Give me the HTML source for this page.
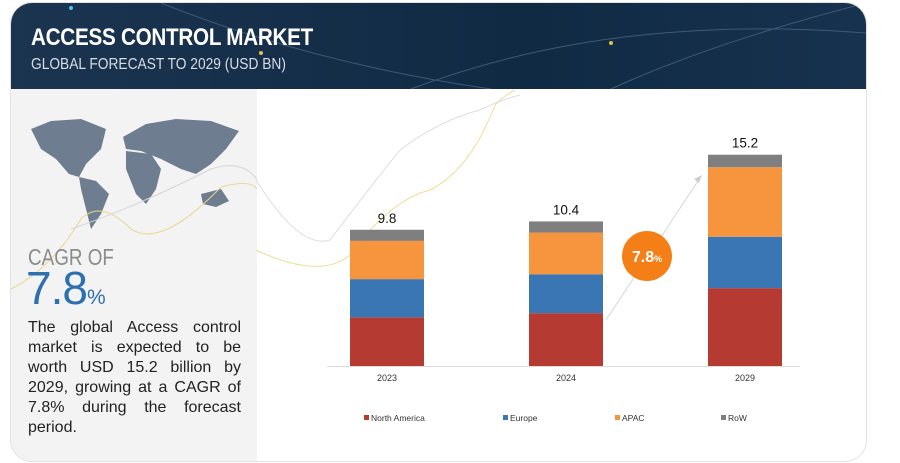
<!DOCTYPE html>
<html><head><meta charset="utf-8"><style>
body{margin:0;width:900px;height:463px;background:#fff;font-family:"Liberation Sans",sans-serif;overflow:hidden;position:relative}
.card{position:absolute;left:10px;top:2px;width:855px;height:458px;border:1px solid #e2e2e2;border-radius:22px;overflow:hidden;background:#fff}
.hdr{position:absolute;left:0;top:0;width:855px;height:86px;background:linear-gradient(90deg,#1b3450,#102a44 60%,#17324e)}
.h1{position:absolute;left:20px;top:21px;color:#fff;font-weight:bold;font-size:24px;transform:scaleX(.86);transform-origin:left;letter-spacing:-0.3px}
.h2{position:absolute;left:20px;top:53px;color:#d8dde4;font-size:16px;transform:scaleX(.86);transform-origin:left}
.left{position:absolute;left:0;top:86px;width:246px;height:372px;background:#f3f3f3}
.cagr{position:absolute;left:17px;top:155px;color:#8b8b8b;font-size:23px;transform:scaleX(.82);transform-origin:left}
.big{position:absolute;left:15px;top:172px;color:#2d6faf;font-size:46px;letter-spacing:-1px}
.big span{font-size:21px}
.desc{position:absolute;left:17px;top:229px;width:213px;font-size:16px;line-height:20px;color:#222;text-align:justify}
</style></head><body>
<div class="card">
<div class="hdr">
<svg width="855" height="86" style="position:absolute;left:0;top:0">
<path d="M150 0 Q300 60 480 86" stroke="#3d5a78" fill="none"/><path d="M400 86 Q600 10 855 30" stroke="#3d5a78" fill="none"/><path d="M600 86 Q700 40 855 0" stroke="#3d5a78" fill="none"/>
<circle cx="250" cy="50" r="2" fill="#e5c040"/><circle cx="600" cy="40" r="2" fill="#e5c040"/><circle cx="60" cy="5" r="2" fill="#4fc3e8"/></svg>
<div class="h1">ACCESS CONTROL MARKET</div>
<div class="h2">GLOBAL FORECAST TO 2029 (USD BN)</div>
</div>
<div class="left">
<svg width="246" height="200" style="position:absolute;left:0;top:0">
<g fill="#6e7d8f">
<path d="M20 40 L40 32 L70 30 L95 40 L90 60 L75 75 L68 88 L58 85 L45 70 L30 60 Z"/>
<path d="M68 88 L85 92 L98 105 L90 125 L80 140 L75 120 L70 100 Z"/>
<path d="M112 48 L135 35 L165 30 L200 32 L228 42 L215 60 L200 75 L185 85 L170 80 L150 70 L130 62 L115 60 Z"/>
<path d="M115 62 L140 65 L150 80 L145 100 L135 115 L125 105 L115 80 Z"/>
<path d="M190 105 L210 100 L218 112 L205 118 L192 115 Z"/>
</g></svg>
<svg width="246" height="372" style="position:absolute;left:0;top:0"><path d="M0 200 Q40 180 70 130 Q90 110 120 140 Q150 160 210 98 Q240 90 246 100" stroke="#ecd58a" fill="none"/><path d="M60 140 Q120 120 200 80 Q230 70 246 90" stroke="#d5d5d5" fill="none"/></svg>
<div class="cagr">CAGR OF</div>
<div class="big">7.8<span>%</span></div>
<div class="desc">The global Access control market is expected to be worth USD 15.2 billion by 2029, growing at a CAGR of 7.8% during the forecast period.</div>
</div>
</div>
<svg id="chart" width="900" height="463" style="position:absolute;left:0;top:0"></svg>
<script>
const categories=["2023","2024","2029"];
const northAmerica=[3.5,3.8,5.6];
const europe=[2.75,2.8,3.7];
const apac=[2.75,3.0,5.0];
const row=[0.8,0.8,0.9];
const totals=["9.8","10.4","15.2"];
const seriesNames=["North America","Europe","APAC","RoW"];
const colors=["#b53a31","#3a76b3","#f7953f","#7f7f7f"];
const series=[northAmerica,europe,apac,row];
const svg=document.getElementById('chart');
const NS="http://www.w3.org/2000/svg";
const baseY=366,pxPer=13.9,barW=74;
const xC=i=>387+i*179;
const yS=v=>baseY-v*pxPer;
function mk(t,a){const e=document.createElementNS(NS,t);for(const k in a)e.setAttribute(k,a[k]);svg.appendChild(e);return e;}
let d=mk('path',{d:"M256 180 Q300 250 330 240 Q360 200 400 150 Q440 120 480 110 Q500 100 520 95",stroke:"#ddd",fill:"none"});

d=mk('path',{d:"M256 250 Q320 280 350 255 Q390 200 430 190 Q470 170 495 105 Q505 95 515 90",stroke:"#f0dc95",fill:"none"});

let ax=mk('line',{x1:327,x2:800,y1:baseY+0.5,y2:baseY+0.5,stroke:"#ddd"});

categories.forEach((c,i)=>{
 let cum=0;
 series.forEach((s,j)=>{
  const r=mk('rect',{x:xC(i)-barW/2,y:yS(cum+s[i]),width:barW,height:s[i]*pxPer,fill:colors[j]});
  
  
  cum+=s[i];
 });
 const t=mk('text',{x:xC(i),y:yS(cum)-7,'text-anchor':'middle','font-size':13.5,fill:'#111'});t.textContent=totals[i];
 
 const l=mk('text',{x:xC(i),y:baseY+15,'text-anchor':'middle','font-size':9,fill:'#333'});l.textContent=c;
 
});
let ar=mk('path',{d:"M606 320 L700 178",stroke:"#ddd",'stroke-width':1.2,fill:"none"});

ar=mk('path',{d:"M702 175 L694 179 L699 183 Z",fill:"#ccc"});

let ci=mk('circle',{cx:647,cy:256,r:25,fill:"#f57f17"});

let ct=mk('text',{x:647,y:262,'text-anchor':'middle','font-size':16,fill:'#fff','font-weight':'bold'});ct.innerHTML='7.8<tspan font-size="9">%</tspan>';

const lx=[364,503,615,721];
seriesNames.forEach((n,j)=>{
 const r=mk('rect',{x:lx[j],y:415,width:5,height:5,fill:colors[j]});
 
 const t=mk('text',{x:lx[j]+7,y:421,'font-size':8.5,fill:'#333'});t.textContent=n;
 
});
</script>
</body></html>
